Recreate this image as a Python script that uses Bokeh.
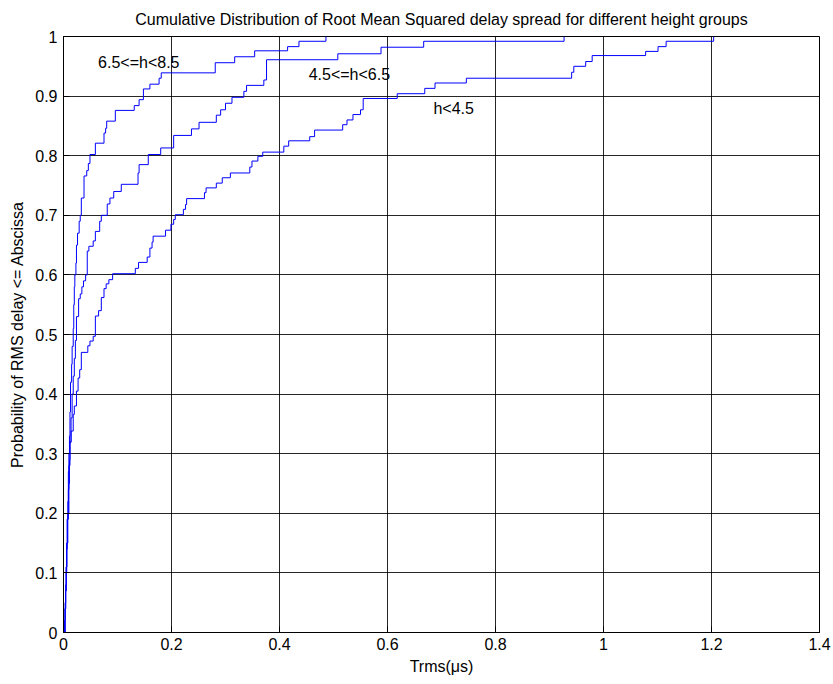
from bokeh.plotting import figure
from bokeh.models import Range1d, FixedTicker, ColumnDataSource
from bokeh.core.properties import value
from bokeh.embed import file_html
from bokeh.resources import INLINE

# ---- data ----
# group 6.5<=h<8.5
a_x = [0.001, 0.002, 0.003, 0.004, 0.005, 0.006, 0.007, 0.008, 0.009, 0.010,
       0.011, 0.012, 0.013, 0.015, 0.016, 0.018, 0.019, 0.020, 0.021, 0.023,
       0.024, 0.026, 0.029, 0.031, 0.033, 0.038, 0.043, 0.046, 0.049, 0.059,
       0.075, 0.078, 0.080, 0.096, 0.131, 0.140, 0.148, 0.160, 0.177, 0.181,
       0.281, 0.317, 0.354, 0.415, 0.436, 0.486]
a_y = [0.000, 0.020, 0.050, 0.080, 0.110, 0.150, 0.190, 0.220, 0.270, 0.300,
       0.330, 0.370, 0.420, 0.450, 0.480, 0.510, 0.550, 0.580, 0.600, 0.620,
       0.650, 0.670, 0.690, 0.700, 0.729, 0.766, 0.775, 0.787, 0.802, 0.821,
       0.838, 0.846, 0.858, 0.876, 0.884, 0.894, 0.912, 0.920, 0.930, 0.939,
       0.956, 0.966, 0.976, 0.983, 0.992, 1.000]

# group 4.5<=h<6.5
b_x = [0.001, 0.003, 0.004, 0.005, 0.006, 0.007, 0.009, 0.010, 0.012, 0.014,
       0.016, 0.018, 0.020, 0.022, 0.024, 0.028, 0.031, 0.034, 0.037, 0.041,
       0.044, 0.047, 0.055, 0.059, 0.067, 0.070, 0.081, 0.086, 0.093, 0.107,
       0.138, 0.140, 0.157, 0.180, 0.204, 0.237, 0.251, 0.283, 0.291, 0.300,
       0.312, 0.334, 0.339, 0.371, 0.376, 0.508, 0.588, 0.667, 0.927]
b_y = [0.000, 0.040, 0.070, 0.100, 0.140, 0.190, 0.240, 0.280, 0.320, 0.360,
       0.400, 0.430, 0.460, 0.490, 0.530, 0.560, 0.568, 0.580, 0.590, 0.600,
       0.640, 0.648, 0.657, 0.673, 0.690, 0.700, 0.719, 0.729, 0.740, 0.752,
       0.771, 0.785, 0.802, 0.813, 0.834, 0.845, 0.856, 0.868, 0.877, 0.888,
       0.898, 0.908, 0.918, 0.927, 0.961, 0.971, 0.982, 0.992, 1.000]

# group h<4.5
c_x = [0.001, 0.003, 0.004, 0.005, 0.006, 0.008, 0.010, 0.011, 0.012, 0.014,
       0.018, 0.020, 0.024, 0.027, 0.030, 0.033, 0.045, 0.049, 0.055, 0.059,
       0.065, 0.070, 0.075, 0.079, 0.084, 0.091, 0.133, 0.139, 0.155, 0.160,
       0.164, 0.166, 0.189, 0.199, 0.204, 0.207, 0.222, 0.226, 0.228, 0.261,
       0.264, 0.283, 0.294, 0.309, 0.345, 0.349, 0.360, 0.369, 0.408, 0.417,
       0.456, 0.465, 0.517, 0.525, 0.536, 0.550, 0.555, 0.618, 0.669, 0.688,
       0.746, 0.941, 0.945, 0.967, 0.979, 1.078, 1.101, 1.116, 1.204]
c_y = [0.000, 0.040, 0.070, 0.110, 0.150, 0.200, 0.250, 0.290, 0.319, 0.338,
       0.366, 0.380, 0.405, 0.427, 0.441, 0.470, 0.481, 0.489, 0.497, 0.531,
       0.540, 0.562, 0.577, 0.585, 0.592, 0.602, 0.611, 0.621, 0.630, 0.645,
       0.655, 0.665, 0.675, 0.685, 0.693, 0.701, 0.710, 0.718, 0.728, 0.738,
       0.746, 0.754, 0.763, 0.771, 0.781, 0.791, 0.799, 0.806, 0.816, 0.825,
       0.832, 0.843, 0.852, 0.860, 0.869, 0.877, 0.896, 0.904, 0.913, 0.922,
       0.930, 0.940, 0.950, 0.958, 0.968, 0.975, 0.983, 0.992, 1.000]

label_text = ["6.5<=h<8.5", "4.5<=h<6.5", "h<4.5"]
label_x = [0.064, 0.454, 0.685]
label_y = [0.957, 0.937, 0.880]

x_ticks = [0, 0.2, 0.4, 0.6, 0.8, 1.0, 1.2, 1.4]
y_ticks = [0, 0.1, 0.2, 0.3, 0.4, 0.5, 0.6, 0.7, 0.8, 0.9, 1.0]
x_tick_labels = {0: "0", 0.2: "0.2", 0.4: "0.4", 0.6: "0.6", 0.8: "0.8",
                 1.0: "1", 1.2: "1.2", 1.4: "1.4"}
y_tick_labels = {0: "0", 0.1: "0.1", 0.2: "0.2", 0.3: "0.3", 0.4: "0.4",
                 0.5: "0.5", 0.6: "0.6", 0.7: "0.7", 0.8: "0.8", 0.9: "0.9",
                 1.0: "1"}

title_text = "Cumulative Distribution of Root Mean Squared delay spread for different height groups"
x_label = "Trms(\u03bcs)"
y_label = "Probability of RMS delay <= Abscissa"

FONT = "Liberation Sans"
FS = "16px"

p = figure(width=833, height=684,
           x_range=Range1d(0, 1.4), y_range=Range1d(0, 1),
           output_backend="svg", toolbar_location=None,
           min_border_left=63, min_border_right=14,
           min_border_top=35, min_border_bottom=52,
           title=title_text)
p.background_fill_color = "white"
p.border_fill_color = "white"
p.outline_line_color = "black"
p.outline_line_width = 1

p.title.align = "center"
p.title.text_font = FONT
p.title.text_font_size = FS
p.title.text_font_style = "normal"
p.title.text_color = "black"
p.title.standoff = 17

for ax, ticks, labels, lab in ((p.xaxis[0], x_ticks, x_tick_labels, x_label),
                               (p.yaxis[0], y_ticks, y_tick_labels, y_label)):
    ax.ticker = FixedTicker(ticks=ticks)
    ax.major_label_overrides = labels
    ax.minor_tick_line_color = None
    ax.major_tick_in = 6
    ax.major_tick_out = 0
    ax.axis_line_color = "black"
    ax.major_tick_line_color = "black"
    ax.major_label_text_font = FONT
    ax.major_label_text_font_size = FS
    ax.major_label_text_color = "black"
    ax.axis_label = lab
    ax.axis_label_text_font = FONT
    ax.axis_label_text_font_size = FS
    ax.axis_label_text_font_style = "normal"
    ax.axis_label_text_color = "black"

p.xaxis.major_label_standoff = 5
p.xaxis.axis_label_standoff = 5
p.yaxis.major_label_standoff = 6
p.yaxis.axis_label_standoff = 6

p.xgrid.ticker = FixedTicker(ticks=x_ticks)
p.ygrid.ticker = FixedTicker(ticks=y_ticks)
for g in (p.xgrid[0], p.ygrid[0]):
    g.grid_line_color = "black"
    g.grid_line_alpha = 0.85
    g.grid_line_width = 1

for xs, ys in ((a_x, a_y), (b_x, b_y), (c_x, c_y)):
    p.step(x=xs, y=ys, mode="after", line_color="#0000FF", line_width=1)

src = ColumnDataSource(dict(x=label_x, y=label_y, t=label_text))
p.text(x="x", y="y", text="t", source=src,
       text_font=value(FONT), text_font_size=FS,
       text_align="left", text_baseline="middle", text_color="black")

open("out.html", "w").write(file_html(p, INLINE))
